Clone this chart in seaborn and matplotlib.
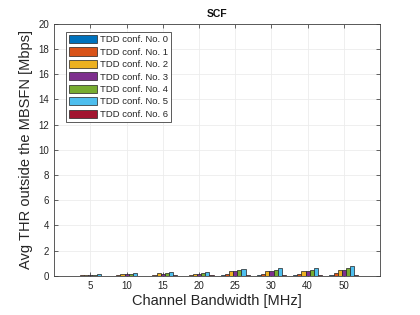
import pandas as pd
import matplotlib.pyplot as plt
import seaborn as sns

bandwidths = ["5", "10", "15", "20", "25", "30", "40", "50"]
configs = ["TDD conf. No. 0", "TDD conf. No. 1", "TDD conf. No. 2", "TDD conf. No. 3",
           "TDD conf. No. 4", "TDD conf. No. 5", "TDD conf. No. 6"]
# valores por configuracion (Mbps), uno por ancho de banda
conf0 = [0.02, 0.02, 0.03, 0.03, 0.04, 0.04, 0.04, 0.05]
conf1 = [0.05, 0.08, 0.10, 0.10, 0.16, 0.18, 0.18, 0.24]
conf2 = [0.10, 0.15, 0.20, 0.16, 0.36, 0.36, 0.38, 0.50]
conf3 = [0.08, 0.12, 0.16, 0.16, 0.36, 0.36, 0.38, 0.50]
conf4 = [0.08, 0.15, 0.24, 0.24, 0.45, 0.48, 0.48, 0.65]
conf5 = [0.16, 0.24, 0.32, 0.32, 0.55, 0.62, 0.60, 0.80]
conf6 = [0.02, 0.03, 0.04, 0.04, 0.06, 0.08, 0.08, 0.10]
colores = ["#0072BD", "#D95319", "#EDB120", "#7E2F8E", "#77AC30", "#4DBEEE", "#A2142F"]

series = [conf0, conf1, conf2, conf3, conf4, conf5, conf6]
filas = []
for conf, vals in zip(configs, series):
    for bw, v in zip(bandwidths, vals):
        filas.append({"bw": bw, "conf": conf, "thr": v})
df = pd.DataFrame(filas)

sns.set_style("white")
plt.rcParams["font.family"] = ["Liberation Sans", "DejaVu Sans"]
gris = "#262626"

fig = plt.figure(figsize=(4.2, 3.15), dpi=100)
ax = fig.add_axes([0.129, 0.124, 0.776, 0.801])
sns.barplot(data=df, x="bw", y="thr", hue="conf", order=bandwidths, hue_order=configs,
            palette=colores, width=0.8, edgecolor="#222222", linewidth=0.5,
            saturation=1, ax=ax, zorder=3)

ax.set_xlim(-1, 8)
ax.set_ylim(0, 20)
ax.set_yticks(range(0, 21, 2))
ax.grid(True, color="#ececec", linewidth=0.6, zorder=0)
ax.set_axisbelow(True)
ax.tick_params(direction="in", length=3, width=0.5, labelsize=7, colors=gris,
               top=True, right=True, bottom=True, left=True)
for s in ax.spines.values():
    s.set_color("#404040")
    s.set_linewidth(0.6)

ax.set_xlabel("Channel Bandwidth [MHz]", fontsize=10.5, color=gris, labelpad=2)
ax.set_ylabel("Avg THR outside the MBSFN [Mbps]", fontsize=10.5, color=gris, labelpad=4)
ax.set_title("SCF", fontsize=7.5, fontweight="bold", color="#111111", pad=5)

leg = ax.legend(loc="upper left", fontsize=6.8, handlelength=3.0, handleheight=0.95,
                labelspacing=0.33, borderpad=0.3, handletextpad=0.3,
                frameon=True, fancybox=False, framealpha=1,
                bbox_to_anchor=(0.022, 0.985))
leg.get_frame().set_edgecolor("#404040")
leg.get_frame().set_linewidth(0.6)
for t in leg.get_texts():
    t.set_color(gris)

plt.savefig("out.png", dpi=100)
plt.close()
